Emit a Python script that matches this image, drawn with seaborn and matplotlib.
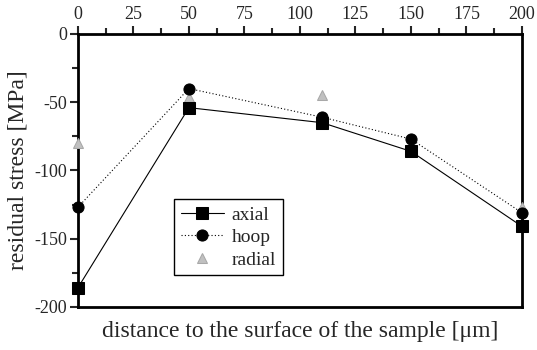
import matplotlib
matplotlib.use("Agg")
import matplotlib.pyplot as plt
import seaborn as sns
import pandas as pd
from matplotlib.ticker import MultipleLocator

depth = [0, 50, 110, 150, 200]
axial = [-186, -54, -65, -86, -141]
hoop = [-127, -40, -61, -77, -131]
radial = [-80, -46, -45, -82, -127]

sns.set_theme(style="white")
plt.rcParams['font.family'] = ['Liberation Serif', 'DejaVu Serif']
plt.rcParams['axes.unicode_minus'] = False

fig = plt.figure(figsize=(5.37, 3.5), dpi=100)
ax = fig.add_axes([0.145, 0.123, 0.827, 0.78])

df = pd.DataFrame({"x": depth, "axial": axial, "hoop": hoop, "radial": radial})

sns.lineplot(data=df, x="x", y="axial", ax=ax, color="black", lw=0.8,
             marker="s", markersize=8, markeredgecolor="black", label="axial",
             clip_on=False, zorder=4)
sns.lineplot(data=df, x="x", y="hoop", ax=ax, color="black", lw=0.8, linestyle=(0, (1, 2)),
             marker="o", markersize=8, markeredgecolor="black", label="hoop",
             clip_on=False, zorder=4)
sns.lineplot(data=df, x="x", y="radial", ax=ax, color="#c0c0c0", lw=0,
             marker="^", markersize=7, markeredgecolor="#a8a8a8", label="radial",
             clip_on=False, zorder=3)

ax.set_xlim(0, 200)
ax.set_ylim(-200, 0)
ax.xaxis.set_major_locator(MultipleLocator(25))
ax.xaxis.set_minor_locator(MultipleLocator(12.5))
ax.yaxis.set_major_locator(MultipleLocator(50))
ax.yaxis.set_minor_locator(MultipleLocator(25))
ax.xaxis.tick_top()
ax.tick_params(axis="x", which="both", top=True, bottom=False, direction="out", labelsize=13, width=1.5, pad=2)
ax.tick_params(axis="x", which="major", length=6)
ax.tick_params(axis="x", which="minor", length=4)
ax.tick_params(axis="y", which="both", left=True, right=False, direction="out", labelsize=13, width=1.5, pad=2)
ax.tick_params(axis="y", which="major", length=6)
ax.tick_params(axis="y", which="minor", length=4)
for s in ax.spines.values():
    s.set_color("black")
    s.set_linewidth(2)

ax.set_xlabel("distance to the surface of the sample [\u03bcm]", fontsize=17, labelpad=10)
ax.xaxis.set_label_position("bottom")
ax.set_ylabel("residual stress [MPa]", fontsize=17, labelpad=4)

leg = ax.legend(loc="lower left", bbox_to_anchor=(0.195, 0.08), fontsize=14, frameon=True,
                fancybox=False, edgecolor="black", handlelength=2.2, handletextpad=0.4,
                borderpad=0.35, labelspacing=0.25, framealpha=1)
leg.get_frame().set_linewidth(1)

fig.savefig("out.png", dpi=100)
